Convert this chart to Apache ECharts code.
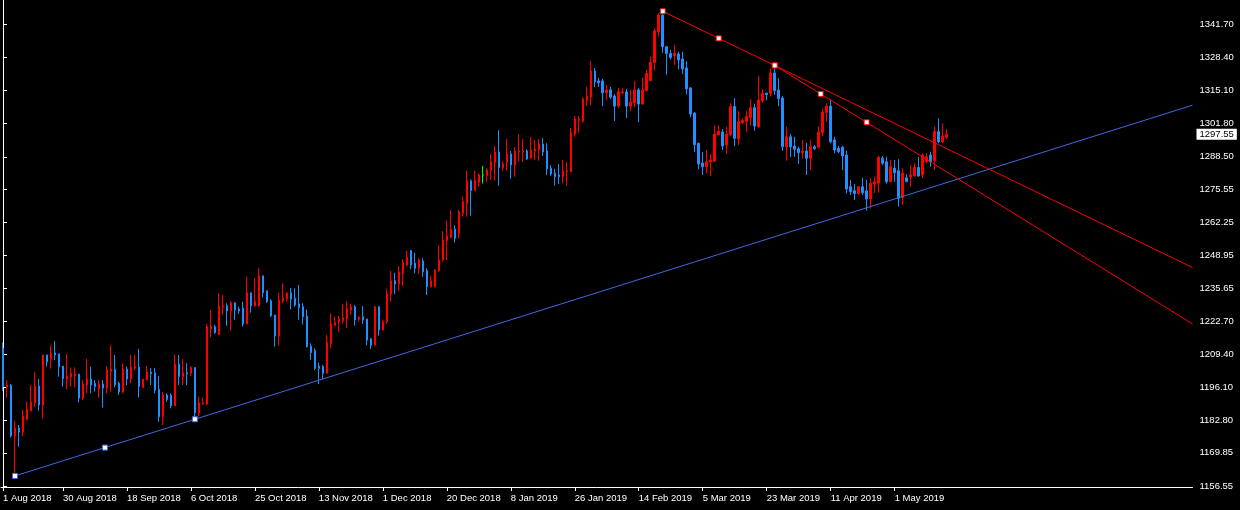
<!DOCTYPE html>
<html>
<head>
<meta charset="utf-8">
<script src="https://cdn.jsdelivr.net/npm/echarts@6/dist/echarts.min.js"></script>
<style>
html,body{margin:0;padding:0;background:#000;}
#c{width:1240px;height:510px;}
</style>
</head>
<body>
<div id="c"></div>
<script>
// ---- data (daily candles, bar index 0..236) ----
const opens = [1211.7,1196.2,1197.0,1176.6,1179.8,1178.2,1183.3,1186.6,1189.8,1196.6,
1189.0,1209.1,1207.5,1209.9,1209.5,1204.6,1199.3,1200.2,1200.8,1201.4,
1191.8,1197.0,1199.4,1197.7,1195.4,1197.4,1195.8,1202.6,1203.4,1197.7,
1194.2,1203.4,1199.4,1203.8,1204.2,1196.1,1199.0,1202.2,1201.9,1195.3,
1184.3,1193.0,1193.0,1188.6,1205.4,1200.4,1202.0,1201.7,1204.0,1185.9,
1189.6,1189.4,1219.6,1220.4,1217.2,1228.3,1228.7,1226.7,1230.0,1227.5,
1227.9,1221.5,1234.0,1228.7,1228.7,1240.8,1234.8,1230.8,1225.1,1216.7,
1230.6,1231.5,1234.0,1231.8,1229.5,1228.4,1224.7,1212.6,1210.8,1204.6,
1204.4,1201.7,1213.7,1220.9,1222.4,1222.7,1223.6,1227.1,1228.4,1223.4,
1224.4,1223.5,1215.6,1213.0,1228.4,1219.1,1222.4,1233.5,1238.8,1237.5,
1241.8,1245.1,1250.9,1245.8,1243.8,1246.7,1242.8,1236.4,1236.4,1242.8,
1247.1,1254.9,1256.2,1259.5,1257.8,1265.8,1269.8,1278.9,1274.9,1278.2,
1281.2,1280.9,1282.9,1286.1,1290.4,1284.1,1286.4,1289.6,1285.2,1290.4,
1290.4,1290.8,1288.0,1290.8,1291.2,1293.6,1290.8,1284.0,1282.0,1281.2,
1280.5,1282.4,1282.4,1297.6,1303.0,1302.8,1311.2,1312.4,1322.9,1318.9,
1318.9,1314.1,1315.3,1312.8,1308.8,1314.1,1314.5,1308.8,1310.0,1315.3,
1309.6,1315.0,1319.0,1326.3,1338.6,1345.3,1332.6,1329.9,1328.9,1329.7,
1327.7,1324.1,1316.1,1306.0,1293.9,1286.0,1284.5,1286.5,1286.7,1297.2,
1298.4,1293.2,1297.2,1308.6,1295.6,1302.2,1302.6,1304.2,1308.2,1300.6,
1310.9,1314.0,1313.9,1322.1,1315.2,1312.0,1292.5,1296.5,1292.8,1291.7,
1290.1,1290.8,1287.9,1292.5,1292.3,1298.2,1306.2,1308.8,1295.2,1291.9,
1292.3,1289.2,1276.5,1274.9,1273.8,1276.5,1274.8,1271.6,1277.5,1277.9,
1287.9,1286.5,1278.5,1283.9,1282.9,1272.2,1280.1,1280.5,1280.8,1284.2,
1281.2,1286.5,1289.2,1286.9,1298.6,1294.5,1296.3];
const highs = [1214.1,1199.0,1197.4,1182.7,1181.0,1187.0,1190.4,1197.0,1202.2,1199.4,
1209.1,1209.1,1213.0,1214.7,1209.5,1204.6,1209.5,1204.1,1204.1,1201.4,
1199.0,1207.5,1204.4,1199.0,1199.0,1199.0,1204.6,1213.0,1209.1,1198.4,
1205.7,1204.4,1209.1,1209.0,1211.5,1199.4,1204.6,1203.8,1203.8,1200.6,
1194.3,1193.7,1193.7,1209.1,1209.1,1207.4,1205.7,1204.6,1204.0,1192.3,
1192.1,1221.5,1227.1,1221.1,1233.8,1233.1,1229.8,1230.7,1230.0,1228.4,
1230.4,1240.4,1234.0,1239.8,1243.8,1240.8,1234.8,1231.4,1225.1,1234.0,
1237.8,1234.4,1235.9,1235.8,1237.1,1229.8,1227.3,1213.7,1211.7,1206.0,
1205.0,1217.1,1225.7,1224.4,1224.7,1229.5,1230.6,1229.5,1229.1,1224.7,
1228.7,1223.5,1215.6,1228.7,1228.7,1223.3,1235.6,1242.7,1242.0,1244.7,
1247.4,1250.9,1251.1,1250.0,1247.8,1247.8,1243.8,1240.7,1243.4,1253.1,
1258.7,1262.9,1267.2,1261.1,1267.2,1272.5,1282.9,1279.4,1282.9,1281.9,
1284.8,1283.9,1289.6,1292.8,1299.2,1286.7,1295.6,1290.8,1292.5,1297.6,
1295.6,1291.5,1296.4,1295.2,1295.6,1296.0,1293.9,1285.2,1283.7,1285.6,
1287.2,1286.4,1300.0,1304.8,1304.8,1312.4,1316.5,1326.9,1324.1,1320.1,
1319.7,1317.3,1316.5,1313.6,1316.1,1316.1,1315.7,1315.3,1318.9,1316.1,
1320.3,1323.3,1328.6,1339.9,1346.0,1346.8,1332.9,1331.3,1333.3,1330.6,
1330.6,1326.9,1316.3,1306.4,1294.1,1290.4,1291.2,1289.6,1301.1,1301.1,
1299.6,1300.5,1309.9,1312.0,1306.8,1303.8,1306.8,1311.6,1309.8,1320.8,
1315.6,1314.0,1323.8,1325.1,1320.0,1312.8,1300.5,1297.6,1296.5,1292.5,
1295.2,1294.1,1295.2,1293.2,1300.6,1307.8,1309.9,1311.2,1296.5,1292.8,
1292.8,1290.9,1279.2,1277.6,1276.8,1280.1,1279.2,1279.9,1280.5,1288.8,
1288.8,1288.5,1287.2,1287.2,1287.5,1283.9,1281.5,1285.2,1285.9,1288.5,
1289.9,1289.9,1290.5,1300.6,1303.9,1301.9,1299.5];
const lows = [1194.6,1192.0,1176.0,1160.6,1172.3,1176.6,1183.0,1186.6,1188.1,1186.7,
1183.5,1204.4,1203.6,1207.1,1200.4,1196.4,1195.3,1196.4,1196.1,1190.1,
1191.0,1193.7,1193.7,1194.4,1192.0,1188.0,1193.7,1194.4,1196.1,1193.0,
1193.7,1197.0,1197.7,1203.0,1192.0,1195.7,1199.0,1197.0,1193.7,1182.3,
1181.0,1190.3,1187.7,1188.6,1197.0,1197.0,1197.0,1200.6,1183.3,1184.3,
1189.0,1189.0,1216.1,1217.5,1217.2,1225.1,1220.7,1218.7,1223.1,1225.5,
1220.4,1221.5,1226.0,1228.4,1228.4,1232.2,1230.0,1224.3,1212.4,1212.8,
1229.8,1230.4,1227.3,1228.4,1223.1,1221.3,1212.0,1207.0,1203.0,1197.5,
1199.3,1201.7,1211.7,1220.7,1218.4,1221.7,1220.0,1225.1,1220.8,1222.4,
1221.5,1213.0,1211.4,1213.0,1216.8,1218.8,1221.5,1230.4,1233.5,1234.8,
1236.7,1244.7,1243.4,1241.8,1241.4,1240.4,1233.1,1236.2,1236.2,1242.4,
1246.5,1247.1,1255.8,1254.1,1255.8,1264.5,1264.5,1264.9,1274.9,1276.5,
1277.8,1278.5,1279.2,1278.9,1276.9,1282.8,1283.0,1279.6,1280.5,1286.5,
1286.5,1287.2,1287.6,1287.2,1286.9,1288.8,1281.2,1280.8,1276.9,1277.6,
1277.8,1276.9,1282.4,1296.5,1298.1,1302.2,1308.8,1309.2,1316.5,1316.5,
1308.8,1311.2,1311.6,1302.8,1308.0,1313.7,1304.0,1306.8,1308.4,1302.4,
1309.6,1314.6,1319.0,1323.0,1336.6,1330.2,1321.3,1327.5,1325.3,1323.5,
1321.7,1313.5,1304.3,1290.5,1283.4,1281.2,1281.9,1280.8,1286.5,1297.2,
1291.2,1289.6,1296.8,1292.8,1293.2,1301.6,1298.5,1301.0,1298.9,1300.1,
1310.2,1311.2,1312.6,1313.3,1308.8,1290.9,1286.9,1288.5,1288.5,1285.6,
1287.9,1281.2,1283.2,1291.2,1291.9,1296.8,1302.6,1293.9,1289.9,1289.9,
1283.2,1273.8,1273.2,1271.2,1273.2,1273.2,1266.9,1267.8,1274.1,1274.1,
1285.2,1277.8,1278.5,1278.5,1268.5,1269.2,1278.5,1276.5,1280.5,1280.5,
1279.9,1285.9,1284.5,1283.2,1293.9,1293.9,1295.5];
const closes = [1196.4,1197.0,1176.6,1179.8,1178.2,1184.6,1187.4,1190.2,1196.6,1189.0,
1209.1,1206.3,1209.7,1209.1,1204.4,1199.6,1200.6,1201.6,1201.4,1191.8,
1197.4,1199.4,1197.0,1196.4,1197.4,1195.8,1203.0,1203.4,1197.0,1194.2,
1203.4,1199.4,1204.2,1204.3,1196.4,1199.4,1202.2,1201.6,1195.0,1184.3,
1193.0,1191.3,1188.6,1205.4,1200.4,1202.0,1201.5,1204.0,1185.9,1189.9,
1189.9,1220.4,1220.4,1218.0,1228.7,1228.7,1226.7,1230.0,1227.1,1226.7,
1221.5,1234.0,1228.7,1230.4,1240.8,1234.0,1230.4,1224.8,1216.7,1231.1,
1231.8,1233.8,1231.5,1229.1,1228.0,1224.4,1212.4,1210.0,1203.7,1203.7,
1201.7,1214.0,1221.5,1222.0,1223.4,1224.0,1227.6,1228.4,1223.1,1224.1,
1223.1,1215.0,1213.0,1228.4,1219.1,1222.4,1233.5,1238.8,1237.5,1242.4,
1246.0,1248.2,1245.1,1243.8,1247.1,1242.4,1236.4,1238.8,1243.1,1247.1,
1255.1,1256.7,1259.5,1255.8,1266.5,1270.5,1278.9,1274.9,1278.9,1281.2,
1281.2,1283.2,1286.5,1290.4,1284.1,1285.6,1289.6,1285.2,1290.8,1290.8,
1290.8,1287.6,1291.2,1291.6,1293.6,1290.4,1283.6,1281.6,1280.5,1280.5,
1282.8,1282.8,1298.0,1303.6,1303.6,1311.6,1312.8,1322.9,1318.5,1318.1,
1314.1,1315.3,1312.4,1308.8,1314.5,1314.5,1308.8,1310.4,1315.3,1309.6,
1315.3,1321.9,1326.3,1338.9,1345.3,1332.6,1329.9,1328.3,1329.9,1327.3,
1323.7,1315.7,1305.6,1293.3,1285.6,1284.5,1286.5,1287.2,1297.6,1298.8,
1292.8,1297.6,1308.6,1295.9,1302.6,1303.0,1304.6,1308.2,1300.8,1311.2,
1314.0,1313.4,1322.1,1315.0,1311.8,1292.5,1296.5,1292.5,1291.5,1290.1,
1290.8,1287.9,1292.5,1291.7,1298.4,1306.4,1308.8,1294.5,1291.2,1290.5,
1288.8,1275.6,1274.5,1273.8,1276.5,1274.1,1271.6,1277.8,1278.5,1288.3,
1285.9,1278.5,1284.5,1282.1,1271.8,1281.9,1278.5,1281.2,1284.2,1280.8,
1289.2,1288.5,1286.5,1298.6,1294.5,1296.8,1297.55];

// x axis: slots (bars + empty space on the right) and date ticks
const slotCount = 298;
const tickIndices = [0,15,31,47,63,79,95,111,127,143,159,175,191,207,223];
const tickLabels = ['1 Aug 2018','30 Aug 2018','18 Sep 2018','6 Oct 2018','25 Oct 2018',
  '13 Nov 2018','1 Dec 2018','20 Dec 2018','8 Jan 2019','26 Jan 2019','14 Feb 2019',
  '5 Mar 2019','23 Mar 2019','11 Apr 2019','1 May 2019'];
// y axis price labels
const priceTicks = [1341.70,1328.40,1315.10,1301.80,1288.50,1275.55,1262.25,1248.95,
  1235.65,1222.70,1209.40,1196.10,1182.80,1169.85,1156.55];
const yMin = 1156.15, yMax = 1351.32;

// trend lines: [barIndex, price] anchor pairs
const blueTrend = [[3,1160.6],[48,1183.3]];
const redTrendA = [[165,1346.8],[193,1325.1]];
const redTrendB = [[193,1325.1],[216,1302.3]];

// ---- build ----
const categories = Array.from({length: slotCount}, (_, i) => String(i));
const candleData = opens.map((o, i) => [o, closes[i], lows[i], highs[i]]);
const labelMap = {};
tickIndices.forEach((t, k) => labelMap[t] = tickLabels[k]);
const tickSet = new Set(tickIndices);
const lastClose = closes[closes.length - 1];
const rightEdge = slotCount - 0.5;

function trendSeries(anchors, color) {
  const [a, b] = anchors;
  const slope = (b[1] - a[1]) / (b[0] - a[0]);
  const mid = [(a[0] + b[0]) / 2, (a[1] + b[1]) / 2];
  const ext = [rightEdge, a[1] + slope * (rightEdge - a[0])];
  const mk = v => ({value: v, symbol: 'rect', symbolSize: 5});
  return {
    type: 'line', xAxisIndex: 1, yAxisIndex: 0,
    data: [mk(a), mk(mid), mk(b), {value: ext, symbol: 'none'}],
    lineStyle: {color: color, width: 1},
    itemStyle: {color: '#ffffff', borderColor: color, borderWidth: 1},
    showSymbol: true, symbol: 'rect', symbolSize: 5,
    silent: true, z: 5, clip: true
  };
}

const chart = echarts.init(document.getElementById('c'), null, {renderer: 'canvas'});
const font = 'Liberation Sans';
chart.setOption({
  backgroundColor: '#000000',
  animation: false,
  grid: {left: 0.5, right: 47.5, top: 0, bottom: 23, containLabel: false},
  xAxis: [{
    type: 'category', data: categories, boundaryGap: true,
    axisLine: {show: true, lineStyle: {color: '#ffffff', width: 1}},
    axisTick: {show: true, alignWithLabel: true, length: 4, interval: (i) => tickSet.has(i),
      lineStyle: {color: '#ffffff'}},
    axisLabel: {show: true, interval: (i) => tickSet.has(i), formatter: (v, i) => labelMap[i] || '',
      color: '#ffffff', fontFamily: font, fontSize: 9.5, align: 'left', margin: 6},
    splitLine: {show: false}
  }, {
    type: 'value', min: -0.5, max: rightEdge, show: false
  }],
  yAxis: [{
    type: 'value', position: 'right', min: yMin, max: yMax, scale: true,
    axisLine: {show: true, lineStyle: {color: '#ffffff', width: 1}},
    axisTick: {show: true, length: 4, customValues: priceTicks, lineStyle: {color: '#ffffff'}},
    axisLabel: {show: true, customValues: priceTicks, formatter: v => v.toFixed(2),
      color: '#ffffff', fontFamily: font, fontSize: 9.5, margin: 7},
    splitLine: {show: false}
  }],
  series: [{
    type: 'candlestick',
    data: candleData,
    barWidth: 2,
    itemStyle: {
      color: '#ff0000', color0: '#1e90ff',
      borderColor: '#ff0000', borderColor0: '#1e90ff',
      borderColorDoji: '#00ff00', borderWidth: 1
    },
    z: 3,
    markLine: {
      silent: true, symbol: 'none', animation: false,
      lineStyle: {color: 'rgba(0,0,0,0)', width: 0},
      label: {show: true, position: 'end', distance: 4, formatter: () => lastClose.toFixed(2),
        backgroundColor: '#ffffff', color: '#000000', fontFamily: font, fontSize: 9.5,
        padding: [1, 3, 0, 3]},
      data: [{yAxis: lastClose}]
    }
  },
  trendSeries(blueTrend, '#4169e1'),
  trendSeries(redTrendA, '#ff0000'),
  trendSeries(redTrendB, '#ff0000')
  ]
});
</script>
</body>
</html>
